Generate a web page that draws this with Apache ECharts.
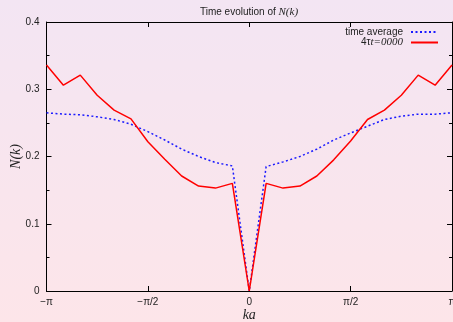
<!DOCTYPE html>
<html>
<head>
<meta charset="utf-8">
<script src="https://cdn.jsdelivr.net/npm/echarts@6/dist/echarts.min.js"></script>
<style>
  html, body { margin: 0; padding: 0; }
  #main { width: 453px; height: 322px; }
</style>
</head>
<body>
<div id="main"></div>
<script>
// sample points in units of pi/12
var kSteps = [-12, -11, -10, -9, -8, -7, -6, -5, -4, -3, -2, -1, 0, 1, 2, 3, 4, 5, 6, 7, 8, 9, 10, 11, 12];
var timeAverage = [0.265, 0.263, 0.262, 0.259, 0.255, 0.248, 0.237, 0.2245, 0.211, 0.200, 0.191, 0.186, 0,
                   0.185, 0.192, 0.200, 0.211, 0.2245, 0.235, 0.245, 0.255, 0.260, 0.263, 0.263, 0.265];
var snapshot = [0.336, 0.306, 0.321, 0.291, 0.269, 0.256, 0.222, 0.196, 0.171, 0.156, 0.153, 0.160, 0,
                0.160, 0.153, 0.156, 0.171, 0.195, 0.223, 0.255, 0.269, 0.291, 0.321, 0.306, 0.336];
var xTickLabels = ['\u2212\u03c0', '\u2212\u03c0/2', '0', '\u03c0/2', '\u03c0'];
var yTickLabels = ['0', '0.1', '0.2', '0.3', '0.4'];

var PI = Math.PI;
function pairs(vals) {
    return kSteps.map(function (s, i) { return [s * PI / 12, vals[i]]; });
}

var myChart = echarts.init(document.getElementById('main'));
var txt = '#222';
var option = {
    backgroundColor: {
        type: 'linear', x: 0, y: 0, x2: 0, y2: 1,
        colorStops: [{ offset: 0, color: '#f3e5f3' }, { offset: 1, color: '#fde5e9' }]
    },
    animation: false,
    title: {
        text: 'Time evolution of {i|N(k)}',
        left: 249, top: 5, padding: 0, textAlign: 'center',
        textStyle: {
            fontFamily: 'Liberation Sans', fontSize: 10, fontWeight: 'normal', color: txt, lineHeight: 14,
            rich: { i: { fontFamily: 'Liberation Serif', fontStyle: 'italic', fontSize: 11, color: txt, lineHeight: 14 } }
        }
    },
    legend: {
        orient: 'vertical', align: 'right',
        right: 14, top: 27, padding: 0,
        itemWidth: 27, itemHeight: 8, itemGap: 0,
        itemStyle: { opacity: 0 },
        textStyle: {
            fontFamily: 'Liberation Sans', fontSize: 10, color: txt, padding: [0, 3, 0, 0], lineHeight: 10,
            rich: {
                s: { fontFamily: 'Liberation Sans', fontSize: 10, color: txt, lineHeight: 10 },
                i: { fontFamily: 'Liberation Serif', fontStyle: 'italic', fontSize: 11, color: txt, lineHeight: 10 }
            }
        },
        formatter: function (name) {
            if (name === '4\u03c4t=0000') return '{s|4\u03c4}{i|t=0000}';
            return name;
        },
        data: ['time average', '4\u03c4t=0000']
    },
    grid: { left: 46.5, right: 1, top: 22, bottom: 31, outerBoundsMode: 'none' },
    xAxis: [{
        type: 'value', min: -PI, max: PI, interval: PI / 2,
        name: 'ka', nameLocation: 'middle', nameGap: 17, nameMoveOverlap: false,
        nameTextStyle: { fontFamily: 'Liberation Serif', fontStyle: 'italic', fontSize: 14, color: txt },
        axisLine: { onZero: false, lineStyle: { color: '#000', width: 1 } },
        axisTick: { inside: true, length: 5, lineStyle: { color: '#000' } },
        axisLabel: {
            margin: 6, fontFamily: 'Liberation Sans', fontSize: 10, color: txt,
            formatter: function (v) { return xTickLabels[Math.round(v / (PI / 2)) + 2]; }
        },
        splitLine: { show: false }
    }, {
        type: 'value', min: -PI, max: PI, interval: PI / 2, position: 'top',
        axisLine: { onZero: false, lineStyle: { color: '#000', width: 1 } },
        axisTick: { inside: true, length: 5, lineStyle: { color: '#000' } },
        axisLabel: { show: false }, splitLine: { show: false }
    }],
    yAxis: [{
        type: 'value', min: 0, max: 0.4, interval: 0.1, position: 'left',
        name: 'N(k)', nameLocation: 'middle', nameGap: 23, nameMoveOverlap: false,
        nameTextStyle: { fontFamily: 'Liberation Serif', fontStyle: 'italic', fontSize: 14, color: txt },
        axisLine: { show: true, onZero: false, lineStyle: { color: '#000', width: 1 } },
        axisTick: { inside: true, length: 5, lineStyle: { color: '#000' } },
        minorTick: { show: true, splitNumber: 2, length: 3, lineStyle: { color: '#000' } },
        axisLabel: {
            margin: 7, fontFamily: 'Liberation Sans', fontSize: 10, color: txt,
            formatter: function (v) { return yTickLabels[Math.round(v * 10)]; }
        },
        splitLine: { show: false }
    }, {
        type: 'value', min: 0, max: 0.4, interval: 0.1, position: 'right',
        axisLine: { show: true, onZero: false, lineStyle: { color: '#000', width: 1 } },
        axisTick: { inside: true, length: 5, lineStyle: { color: '#000' } },
        minorTick: { show: true, splitNumber: 2, length: 3, lineStyle: { color: '#000' } },
        axisLabel: { show: false }, splitLine: { show: false }
    }],
    series: [{
        name: 'time average', type: 'line', symbol: 'none', showSymbol: false,
        data: pairs(timeAverage),
        itemStyle: { color: '#1a1aff' },
        lineStyle: { color: '#1a1aff', width: 1.5, type: [2, 2.5] }
    }, {
        name: '4\u03c4t=0000', type: 'line', symbol: 'none', showSymbol: false,
        data: pairs(snapshot),
        itemStyle: { color: '#ff0000' },
        lineStyle: { color: '#ff0000', width: 1.5 }
    }]
};
myChart.setOption(option);
</script>
</body>
</html>
